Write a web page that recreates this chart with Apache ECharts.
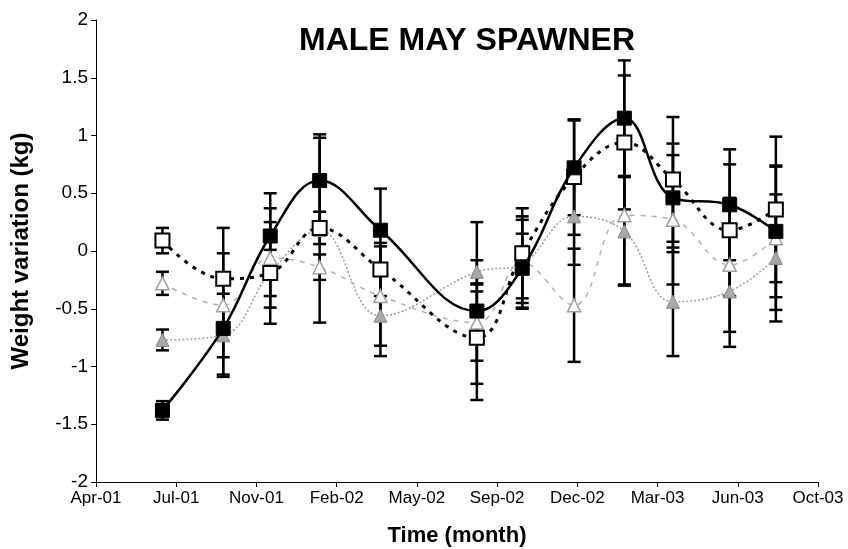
<!DOCTYPE html>
<html>
<head>
<meta charset="utf-8">
<script src="https://cdn.jsdelivr.net/npm/echarts@6/dist/echarts.min.js"></script>
<style>
  html, body { margin: 0; padding: 0; background: #fff; }
  #chart { width: 848px; height: 549px; }
</style>
</head>
<body>
<div id="chart"></div>
<script>
// ---- data ----
const tickLabels = ['Apr-01', 'Jul-01', 'Nov-01', 'Feb-02', 'May-02', 'Sep-02', 'Dec-02', 'Mar-03', 'Jun-03', 'Oct-03']
const axisStart = '2001-04-29'
const tickDays = 99

const sampleDates = ['2001-07-20', '2001-10-03', '2001-11-30', '2002-01-30', '2002-04-15', '2002-08-12',
  '2002-10-07', '2002-12-10', '2003-02-10', '2003-04-11', '2003-06-20', '2003-08-16']

// filled squares, solid line
const blackMean = [-1.38, -0.67, 0.13, 0.61, 0.18, -0.52, -0.15, 0.72, 1.15, 0.46, 0.40, 0.17]
const blackErr = [0.08, 0.40, 0.37, 0.40, 0.36, 0.77, 0.30, 0.41, 0.50, 0.47, 0.48, 0.57]
// open squares, dashed line
const openMean = [0.09, -0.24, -0.19, 0.20, -0.16, -0.75, -0.02, 0.64, 0.94, 0.62, 0.18, 0.36]
const openErr = [0.11, 0.44, 0.44, 0.14, 0.23, 0.40, 0.39, 0.50, 0.58, 0.54, 0.57, 0.63]
// open triangles, light dashed line
const lightMean = [-0.28, -0.47, -0.06, -0.14, -0.39, -0.62, -0.10, -0.47, 0.31, 0.27, -0.12, 0.11]
const lightErr = [0.10, 0.45, 0.43, 0.11, 0.43, 0.33, 0.40, 0.49, 0.60, 0.56, 0.58, 0.62]
// grey triangles, grey dotted line
const greyMean = [-0.77, -0.73, -0.19, 0.18, -0.56, -0.18, -0.11, 0.30, 0.17, -0.44, -0.35, -0.06]
const greyErr = [0.09, 0.36, 0.20, 0.80, 0.35, 0.10, 0.38, 0.42, 0.47, 0.47, 0.48, 0.55]

// ---- helpers ----
const dayMs = 86400000
const toDays = (d) => (Date.parse(d) - Date.parse(axisStart)) / dayMs
const xDays = sampleDates.map(toDays)

const points = (means) => means.map((v, i) => [xDays[i], v])
const bars = (means, errs) => means.map((v, i) => [xDays[i], v - errs[i], v + errs[i]])

const renderErr = (params, api) => {
  const x = api.value(0)
  const lo = api.coord([x, api.value(1)])
  const hi = api.coord([x, api.value(2)])
  const w = 6.5
  const style = { stroke: '#000', lineWidth: 2.5 }
  return {
    type: 'group',
    children: [
      { type: 'line', shape: { x1: hi[0], y1: hi[1], x2: lo[0], y2: lo[1] }, style },
      { type: 'line', shape: { x1: hi[0] - w, y1: hi[1], x2: hi[0] + w, y2: hi[1] }, style },
      { type: 'line', shape: { x1: lo[0] - w, y1: lo[1], x2: lo[0] + w, y2: lo[1] }, style }
    ]
  }
}

const errSeries = (means, errs) => ({
  type: 'custom',
  renderItem: renderErr,
  data: bars(means, errs),
  encode: { x: 0, y: [1, 2] },
  z: 2,
  silent: true
})

const chart = echarts.init(document.getElementById('chart'))

const option = {
  animation: false,
  backgroundColor: '#fff',
  title: {
    text: 'MALE MAY SPAWNER',
    left: 462,
    top: 20,
    textAlign: 'center',
    textStyle: { fontFamily: 'Liberation Sans', fontWeight: 'bold', fontSize: 32, color: '#000' }
  },
  grid: { left: 96, right: 30, top: 20, bottom: 67, containLabel: false, outerBoundsMode: 'none' },
  xAxis: {
    type: 'value',
    min: 0,
    max: tickDays * (tickLabels.length - 1),
    interval: tickDays,
    name: 'Time (month)',
    nameLocation: 'middle',
    nameGap: 43,
    nameTextStyle: { fontFamily: 'Liberation Sans', fontWeight: 'bold', fontSize: 22, color: '#000' },
    splitLine: { show: false },
    axisLine: { onZero: false, lineStyle: { color: '#000', width: 1 } },
    axisTick: { show: true, length: 5, lineStyle: { color: '#000' } },
    axisLabel: {
      fontFamily: 'Liberation Sans', fontSize: 17, color: '#000', margin: 8,
      formatter: (v) => tickLabels[Math.round(v / tickDays)]
    }
  },
  yAxis: {
    type: 'value',
    min: -2,
    max: 2,
    interval: 0.5,
    name: 'Weight variation (kg)',
    nameLocation: 'middle',
    nameGap: 63,
    nameTextStyle: { fontFamily: 'Liberation Sans', fontWeight: 'bold', fontSize: 24, color: '#000' },
    splitLine: { show: false },
    axisLine: { show: true, lineStyle: { color: '#000', width: 1 } },
    axisTick: { show: true, length: 5, lineStyle: { color: '#000' } },
    axisLabel: { fontFamily: 'Liberation Sans', fontSize: 19, color: '#000', margin: 8 }
  },
  series: [
    errSeries(greyMean, greyErr),
    errSeries(lightMean, lightErr),
    errSeries(openMean, openErr),
    errSeries(blackMean, blackErr),
    {
      type: 'line',
      data: points(greyMean),
      smooth: 0.4,
      symbol: 'triangle',
      symbolSize: 13,
      z: 3,
      lineStyle: { color: '#9a9a9a', width: 1.5, type: [2, 2] },
      itemStyle: { color: '#a8a8a8', borderColor: '#888', borderWidth: 1 }
    },
    {
      type: 'line',
      data: points(lightMean),
      smooth: 0.4,
      symbol: 'triangle',
      symbolSize: 13,
      z: 3,
      lineStyle: { color: '#b0b0b0', width: 1.5, type: [5, 6] },
      itemStyle: { color: '#fff', borderColor: '#a0a0a0', borderWidth: 1.5 }
    },
    {
      type: 'line',
      data: points(openMean),
      smooth: 0.4,
      symbol: 'rect',
      symbolSize: 14,
      z: 4,
      lineStyle: { color: '#000', width: 3, type: [4, 6] },
      itemStyle: { color: '#fff', borderColor: '#000', borderWidth: 2 }
    },
    {
      type: 'line',
      data: points(blackMean),
      smooth: 0.4,
      symbol: 'rect',
      symbolSize: 14,
      z: 5,
      lineStyle: { color: '#000', width: 2.5 },
      itemStyle: { color: '#000', borderColor: '#000' }
    }
  ]
}

chart.setOption(option)
</script>
</body>
</html>
